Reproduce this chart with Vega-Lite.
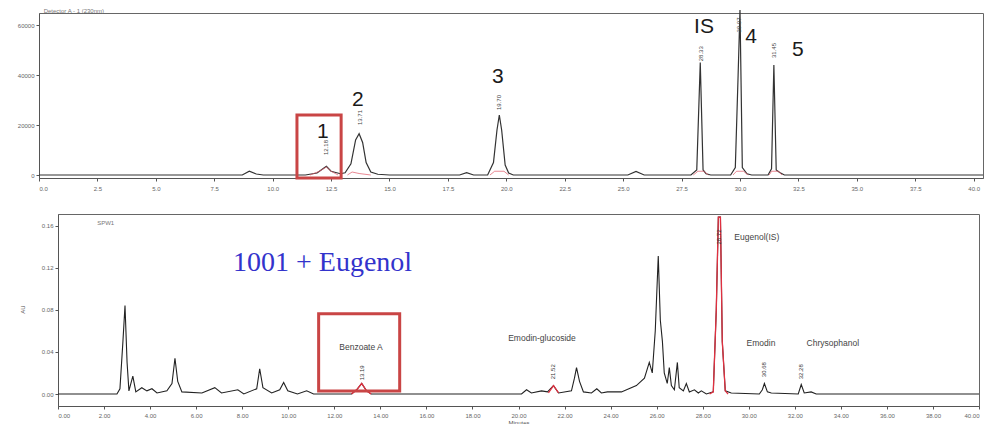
{
  "$schema": "https://vega.github.io/schema/vega-lite/v6.json",
  "padding": {"top": 7, "left": 10, "right": 3, "bottom": 0},
  "background": "white",
  "config": {
    "font": "Liberation Sans",
    "view": {"stroke": "#666", "strokeWidth": 1},
    "axis": {"labelFontSize": 6, "labelColor": "#666", "domainColor": "#555", "tickColor": "#555", "tickSize": 3, "grid": false, "labelFont": "Liberation Sans"}
  },
  "datasets": {
    "top": [
      {"t": 0, "v": 0}, {"t": 8.7, "v": 0}, {"t": 9.0, "v": 1500}, {"t": 9.3, "v": 400}, {"t": 9.6, "v": 0},
      {"t": 11.4, "v": 0}, {"t": 11.9, "v": 800}, {"t": 12.15, "v": 2500}, {"t": 12.3, "v": 3500}, {"t": 12.5, "v": 1500}, {"t": 12.9, "v": 500},
      {"t": 13.1, "v": 900}, {"t": 13.35, "v": 4500}, {"t": 13.55, "v": 14000}, {"t": 13.7, "v": 16500}, {"t": 13.85, "v": 13000}, {"t": 14.0, "v": 5000}, {"t": 14.2, "v": 1200}, {"t": 14.5, "v": 300}, {"t": 15.0, "v": 0},
      {"t": 18.0, "v": 0}, {"t": 18.3, "v": 900}, {"t": 18.6, "v": 0},
      {"t": 19.2, "v": 0}, {"t": 19.45, "v": 5000}, {"t": 19.6, "v": 18000}, {"t": 19.7, "v": 24000}, {"t": 19.8, "v": 18000}, {"t": 19.95, "v": 4000}, {"t": 20.1, "v": 800}, {"t": 20.3, "v": 0},
      {"t": 25.2, "v": 0}, {"t": 25.55, "v": 1400}, {"t": 25.9, "v": 0},
      {"t": 27.9, "v": 0}, {"t": 28.15, "v": 2000}, {"t": 28.3, "v": 45000}, {"t": 28.42, "v": 2000}, {"t": 28.55, "v": 500}, {"t": 28.75, "v": 0},
      {"t": 29.6, "v": 0}, {"t": 29.8, "v": 3000}, {"t": 29.92, "v": 40000}, {"t": 30.0, "v": 66000}, {"t": 30.1, "v": 3000}, {"t": 30.3, "v": 500}, {"t": 30.5, "v": 0},
      {"t": 31.2, "v": 0}, {"t": 31.35, "v": 2500}, {"t": 31.45, "v": 44000}, {"t": 31.55, "v": 2000}, {"t": 31.7, "v": 1000}, {"t": 31.9, "v": 0},
      {"t": 40.4, "v": 0}
    ],
    "topRed": [
      {"g": "a", "t": 11.6, "v": 0}, {"g": "a", "t": 12.0, "v": 1500}, {"g": "a", "t": 12.3, "v": 3200}, {"g": "a", "t": 12.5, "v": 1500}, {"g": "a", "t": 12.8, "v": 0},
      {"g": "b", "t": 13.2, "v": 0}, {"g": "b", "t": 13.4, "v": 1200}, {"g": "b", "t": 13.7, "v": 600}, {"g": "b", "t": 14.2, "v": 0},
      {"g": "c", "t": 19.3, "v": 0}, {"g": "c", "t": 19.5, "v": 1500}, {"g": "c", "t": 19.9, "v": 1500}, {"g": "c", "t": 20.1, "v": 0},
      {"g": "d", "t": 28.0, "v": 0}, {"g": "d", "t": 28.2, "v": 1500}, {"g": "d", "t": 28.45, "v": 1500}, {"g": "d", "t": 28.65, "v": 0},
      {"g": "e", "t": 29.7, "v": 0}, {"g": "e", "t": 29.85, "v": 1500}, {"g": "e", "t": 30.15, "v": 1500}, {"g": "e", "t": 30.35, "v": 0},
      {"g": "f", "t": 31.25, "v": 0}, {"g": "f", "t": 31.35, "v": 1500}, {"g": "f", "t": 31.65, "v": 1500}, {"g": "f", "t": 31.8, "v": 0}
    ],
    "topLab": [
      {"t": 12.15, "v": 17200, "label": "1"},
      {"t": 13.65, "v": 30000, "label": "2"},
      {"t": 19.64, "v": 39200, "label": "3"},
      {"t": 28.46, "v": 59200, "label": "IS"},
      {"t": 30.47, "v": 55200, "label": "4"},
      {"t": 32.48, "v": 50000, "label": "5"}
    ],
    "topRt": [
      {"t": 12.3, "v": 8000, "label": "12.18"},
      {"t": 13.75, "v": 20000, "label": "13.71"},
      {"t": 19.7, "v": 26000, "label": "19.70"},
      {"t": 28.33, "v": 45500, "label": "28.33"},
      {"t": 29.95, "v": 57000, "label": "29.97"},
      {"t": 31.45, "v": 46800, "label": "31.45"}
    ],
    "topBox": [{"x1": 11.04, "x2": 12.93, "y1": -1200, "y2": 24000}],
    "bot": [
      {"t": 0, "v": 0}, {"t": 2.56, "v": 0}, {"t": 2.69, "v": 0.005}, {"t": 2.82, "v": 0.05}, {"t": 2.91, "v": 0.084}, {"t": 3.0, "v": 0.03}, {"t": 3.08, "v": 0.003},
      {"t": 3.25, "v": 0.017}, {"t": 3.38, "v": 0.002}, {"t": 3.64, "v": 0.006}, {"t": 3.86, "v": 0.003}, {"t": 4.08, "v": 0.005}, {"t": 4.3, "v": 0.001},
      {"t": 4.73, "v": 0.003}, {"t": 4.95, "v": 0.01}, {"t": 5.08, "v": 0.034}, {"t": 5.2, "v": 0.012}, {"t": 5.38, "v": 0.002},
      {"t": 6.25, "v": 0.001}, {"t": 6.81, "v": 0.006}, {"t": 7.1, "v": 0.001}, {"t": 7.81, "v": 0.004}, {"t": 8.07, "v": 0.0},
      {"t": 8.63, "v": 0.005}, {"t": 8.76, "v": 0.024}, {"t": 8.9, "v": 0.006}, {"t": 9.28, "v": 0.001}, {"t": 9.63, "v": 0.004}, {"t": 9.8, "v": 0.011}, {"t": 9.98, "v": 0.003},
      {"t": 10.4, "v": 0.0}, {"t": 10.8, "v": 0.003}, {"t": 11.1, "v": 0},
      {"t": 12.75, "v": 0}, {"t": 12.97, "v": 0.004}, {"t": 13.19, "v": 0.01}, {"t": 13.4, "v": 0.003}, {"t": 13.6, "v": 0},
      {"t": 20.13, "v": 0}, {"t": 20.35, "v": 0.004}, {"t": 20.56, "v": 0.001}, {"t": 21.0, "v": 0.003}, {"t": 21.26, "v": 0.002}, {"t": 21.52, "v": 0.008}, {"t": 21.74, "v": 0.001},
      {"t": 22.3, "v": 0.003}, {"t": 22.43, "v": 0.015}, {"t": 22.52, "v": 0.025}, {"t": 22.65, "v": 0.012}, {"t": 22.82, "v": 0.002},
      {"t": 23.17, "v": 0.001}, {"t": 23.4, "v": 0.005}, {"t": 23.6, "v": 0.001}, {"t": 23.86, "v": 0.002}, {"t": 24.47, "v": 0.002},
      {"t": 25.12, "v": 0.008}, {"t": 25.47, "v": 0.015}, {"t": 25.68, "v": 0.03}, {"t": 25.81, "v": 0.02}, {"t": 25.94, "v": 0.06}, {"t": 26.07, "v": 0.131}, {"t": 26.16, "v": 0.07},
      {"t": 26.25, "v": 0.05}, {"t": 26.33, "v": 0.02}, {"t": 26.46, "v": 0.01}, {"t": 26.55, "v": 0.025}, {"t": 26.64, "v": 0.008}, {"t": 26.77, "v": 0.004}, {"t": 26.9, "v": 0.03},
      {"t": 26.98, "v": 0.006}, {"t": 27.16, "v": 0.003}, {"t": 27.29, "v": 0.01}, {"t": 27.42, "v": 0.002}, {"t": 27.64, "v": 0.004}, {"t": 27.81, "v": 0.001}, {"t": 27.94, "v": 0.003},
      {"t": 28.16, "v": 0}, {"t": 28.46, "v": 0.002}, {"t": 28.59, "v": 0.08}, {"t": 28.68, "v": 0.168}, {"t": 28.77, "v": 0.168}, {"t": 28.85, "v": 0.05}, {"t": 28.98, "v": 0.003},
      {"t": 29.24, "v": 0.001}, {"t": 30.46, "v": 0}, {"t": 30.59, "v": 0.004}, {"t": 30.68, "v": 0.01}, {"t": 30.81, "v": 0.002}, {"t": 30.98, "v": 0.001},
      {"t": 32.15, "v": 0}, {"t": 32.28, "v": 0.009}, {"t": 32.41, "v": 0.001}, {"t": 32.71, "v": 0.002}, {"t": 32.93, "v": 0}, {"t": 40, "v": 0}
    ],
    "botRed": [
      {"g": "a", "t": 12.75, "v": 0}, {"g": "a", "t": 12.97, "v": 0.004}, {"g": "a", "t": 13.19, "v": 0.01}, {"g": "a", "t": 13.4, "v": 0.003}, {"g": "a", "t": 13.6, "v": 0},
      {"g": "b", "t": 21.3, "v": 0.001}, {"g": "b", "t": 21.52, "v": 0.008}, {"g": "b", "t": 21.74, "v": 0.001},
      {"g": "c", "t": 28.3, "v": 0}, {"g": "c", "t": 28.46, "v": 0.002}, {"g": "c", "t": 28.59, "v": 0.08}, {"g": "c", "t": 28.68, "v": 0.168}, {"g": "c", "t": 28.77, "v": 0.168}, {"g": "c", "t": 28.85, "v": 0.05}, {"g": "c", "t": 28.98, "v": 0.003}, {"g": "c", "t": 29.1, "v": 0}
    ],
    "botLab": [
      {"t": 13.16, "v": 0.0448, "label": "Benzoate A"},
      {"t": 21.02, "v": 0.053, "label": "Emodin-glucoside"},
      {"t": 30.35, "v": 0.1495, "label": "Eugenol(IS)"},
      {"t": 30.53, "v": 0.0486, "label": "Emodin"},
      {"t": 33.65, "v": 0.0486, "label": "Chrysophanol"}
    ],
    "botRt": [
      {"t": 13.19, "v": 0.013, "label": "13.19"},
      {"t": 21.52, "v": 0.014, "label": "21.52"},
      {"t": 28.72, "v": 0.142, "label": "28.72"},
      {"t": 30.68, "v": 0.016, "label": "30.68"},
      {"t": 32.28, "v": 0.014, "label": "32.28"}
    ],
    "botBox": [{"x1": 11.32, "x2": 14.84, "y1": 0.0029, "y2": 0.0762}],
    "botTitle": [{"t": 7.6, "v": 0.124, "label": "1001 + Eugenol"}]
  },
  "columns": 1,
  "align": "none",
  "spacing": 14,
  "concat": [
    {
      "width": 944,
      "height": 165,
      "layer": [
        {
          "data": {"name": "top"},
          "mark": {"type": "line", "color": "#333", "strokeWidth": 1.2, "clip": false},
          "encoding": {
            "x": {"field": "t", "type": "quantitative", "scale": {"domain": [0, 40.4], "nice": false, "zero": false},
              "axis": {"title": null, "values": [0, 2.5, 5, 7.5, 10, 12.5, 15, 17.5, 20, 22.5, 25, 27.5, 30, 32.5, 35, 37.5, 40], "format": ".1f", "minExtent": 20, "maxExtent": 20, "labelPadding": 4}},
            "y": {"field": "v", "type": "quantitative", "scale": {"domain": [-1200, 64800], "nice": false, "zero": false},
              "axis": {"title": null, "values": [0, 10000, 20000, 30000, 40000, 50000, 60000], "format": "d", "minExtent": 28, "maxExtent": 28}}
          }
        },
        {
          "data": {"name": "topRed"},
          "mark": {"type": "line", "color": "#e05a6a", "strokeWidth": 0.9, "opacity": 0.8},
          "encoding": {
            "x": {"field": "t", "type": "quantitative"},
            "y": {"field": "v", "type": "quantitative"},
            "detail": {"field": "g"}
          }
        },
        {
          "data": {"name": "topRt"},
          "mark": {"type": "text", "angle": 270, "align": "left", "baseline": "middle", "fontSize": 6, "color": "#444"},
          "encoding": {
            "x": {"field": "t", "type": "quantitative"},
            "y": {"field": "v", "type": "quantitative"},
            "text": {"field": "label"}
          }
        },
        {
          "data": {"name": "topLab"},
          "mark": {"type": "text", "fontSize": 21, "font": "Liberation Sans", "color": "#1a1a1a", "baseline": "middle", "align": "center"},
          "encoding": {
            "x": {"field": "t", "type": "quantitative"},
            "y": {"field": "v", "type": "quantitative"},
            "text": {"field": "label"}
          }
        },
        {
          "data": {"values": [{"t": 0.2, "v": 64800, "label": "Detector A - 1 (230nm)"}]},
          "mark": {"type": "text", "fontSize": 6, "color": "#777", "align": "left", "baseline": "bottom", "dy": 1},
          "encoding": {
            "x": {"field": "t", "type": "quantitative"},
            "y": {"field": "v", "type": "quantitative"},
            "text": {"field": "label"}
          }
        },
        {
          "data": {"name": "topBox"},
          "mark": {"type": "rect", "fill": null, "fillOpacity": 0, "stroke": "#c94545", "strokeWidth": 3},
          "encoding": {
            "x": {"field": "x1", "type": "quantitative"},
            "x2": {"field": "x2"},
            "y": {"field": "y1", "type": "quantitative"},
            "y2": {"field": "y2"}
          }
        }
      ]
    },
    {
      "columns": 2,
      "align": "none",
      "bounds": "flush",
      "spacing": 0,
      "concat": [
        {
          "width": 19,
          "height": 192,
          "view": {"stroke": null},
          "data": {"values": [{"s": ""}]},
          "mark": {"type": "text"},
          "encoding": {"text": {"field": "s"}}
        },
        {
          "width": 921,
          "height": 192,
          "layer": [
            {
              "data": {"name": "bot"},
              "mark": {"type": "line", "color": "#222", "strokeWidth": 1.1},
              "encoding": {
                "x": {"field": "t", "type": "quantitative", "scale": {"domain": [0, 40], "nice": false, "zero": false},
                  "axis": {"title": "Minutes", "titleFontSize": 6, "titleColor": "#555", "titleFontWeight": "normal", "titlePadding": 1, "values": [0, 2, 4, 6, 8, 10, 12, 14, 16, 18, 20, 22, 24, 26, 28, 30, 32, 34, 36, 38, 40], "format": ".2f", "minExtent": 12, "maxExtent": 12, "labelPadding": 3}},
                "y": {"field": "v", "type": "quantitative", "scale": {"domain": [-0.0114, 0.171], "nice": false, "zero": false},
                  "axis": {"title": "AU", "titleFontSize": 6, "titleColor": "#555", "titleFontWeight": "normal", "titleX": -33, "titleY": 95, "values": [0, 0.02, 0.04, 0.06, 0.08, 0.1, 0.12, 0.14, 0.16], "format": ".2f", "minExtent": 36, "maxExtent": 36}}
              }
            },
            {
              "data": {"name": "botRed"},
              "mark": {"type": "line", "color": "#e03040", "strokeWidth": 1.3},
              "encoding": {
                "x": {"field": "t", "type": "quantitative"},
                "y": {"field": "v", "type": "quantitative"},
                "detail": {"field": "g"}
              }
            },
            {
              "data": {"name": "botRt"},
              "mark": {"type": "text", "angle": 270, "align": "left", "baseline": "middle", "fontSize": 6, "color": "#333"},
              "encoding": {
                "x": {"field": "t", "type": "quantitative"},
                "y": {"field": "v", "type": "quantitative"},
                "text": {"field": "label"}
              }
            },
            {
              "data": {"name": "botLab"},
              "mark": {"type": "text", "fontSize": 8.5, "color": "#444", "baseline": "middle", "align": "center"},
              "encoding": {
                "x": {"field": "t", "type": "quantitative"},
                "y": {"field": "v", "type": "quantitative"},
                "text": {"field": "label"}
              }
            },
            {
              "data": {"values": [{"t": 1.7, "v": 0.162, "label": "SPW1"}]},
              "mark": {"type": "text", "fontSize": 6, "color": "#777", "align": "left", "baseline": "middle"},
              "encoding": {
                "x": {"field": "t", "type": "quantitative"},
                "y": {"field": "v", "type": "quantitative"},
                "text": {"field": "label"}
              }
            },
            {
              "data": {"name": "botTitle"},
              "mark": {"type": "text", "fontSize": 28, "font": "Liberation Serif", "color": "#3333cc", "align": "left", "baseline": "middle"},
              "encoding": {
                "x": {"field": "t", "type": "quantitative"},
                "y": {"field": "v", "type": "quantitative"},
                "text": {"field": "label"}
              }
            },
            {
              "data": {"name": "botBox"},
              "mark": {"type": "rect", "fill": null, "fillOpacity": 0, "stroke": "#c94545", "strokeWidth": 3},
              "encoding": {
                "x": {"field": "x1", "type": "quantitative"},
                "x2": {"field": "x2"},
                "y": {"field": "y1", "type": "quantitative"},
                "y2": {"field": "y2"}
              }
            }
          ]
        }
      ]
    }
  ],
  "resolve": {"scale": {"x": "independent", "y": "independent"}}
}
